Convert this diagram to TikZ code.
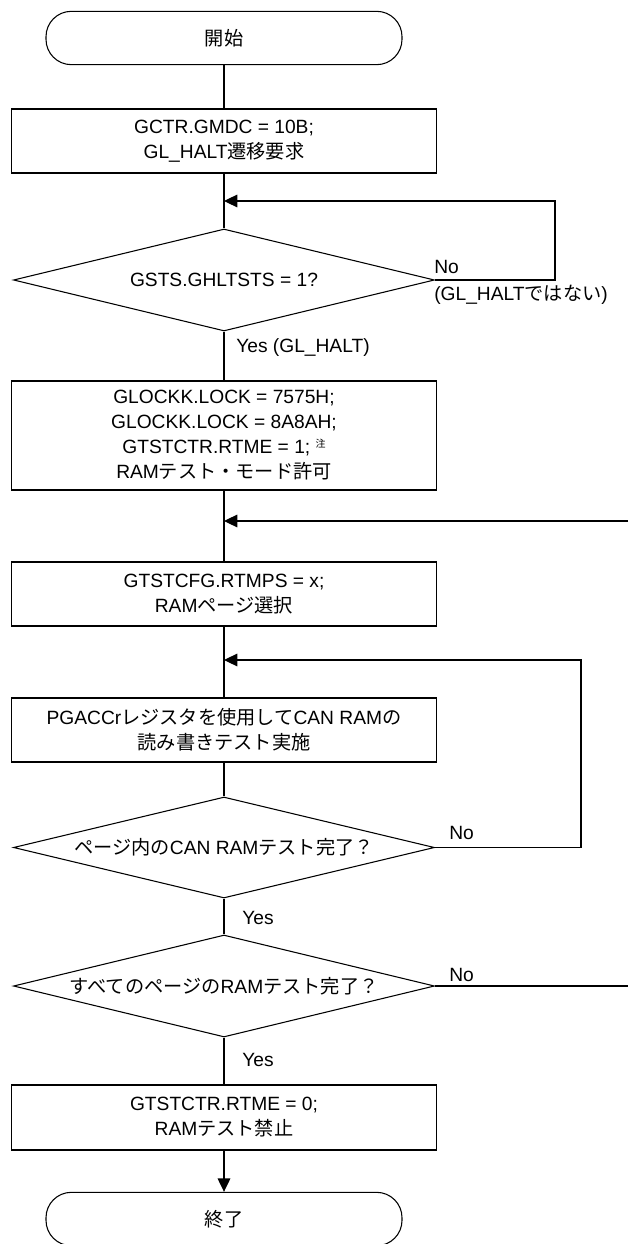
\documentclass[tikz,border=0pt]{standalone}
\usepackage{fontspec}
\setmainfont{Liberation Sans}
\newfontfamily\jp{Noto Sans CJK JP}
\usetikzlibrary{shapes.geometric,arrows.meta}
\begin{document}
\begin{tikzpicture}[x=0.75pt,y=-0.75pt,
  every node/.style={font=\fontsize{14.4}{18.75}\selectfont},
  line/.style={line width=0.8pt},
  term/.style={draw,line width=0.8pt,rounded corners=19pt,minimum width=267pt,minimum height=40pt,inner sep=0pt},
  proc/.style={draw,line width=0.8pt,minimum width=318.75pt,align=center,inner sep=0pt},
  dec/.style={draw,line width=0.8pt,diamond,shape aspect=4.13,minimum width=315.75pt,minimum height=76.5pt,inner sep=0pt,align=center},
  lbl/.style={anchor=west,inner sep=0pt},
  arr/.style={line width=0.8pt,-{Triangle[length=10pt,width=9.5pt]}}
]
\useasboundingbox (0,0) rectangle (628,1244);

% nodes
\node[term] (start) at (224,38) {{\jp 開始}};
\node[proc,minimum height=48pt] (b1) at (224,141) {GCTR.GMDC = 10B;\\GL\_HALT{\jp 遷移要求}};
\node[dec] (d1) at (224,280) {GSTS.GHLTSTS = 1?};
\node[proc,minimum height=81.75pt] (b2) at (224,435.5) {GLOCKK.LOCK = 7575H;\\GLOCKK.LOCK = 8A8AH;\\GTSTCTR.RTME = 1; \raisebox{5pt}{\jp\fontsize{7.5}{8}\selectfont 注}\\RAM{\jp テスト・モード許可}};
\node[proc,minimum height=48pt] (b3) at (224,594) {GTSTCFG.RTMPS = x;\\RAM{\jp ページ選択}};
\node[proc,minimum height=48pt] (b4) at (224,730) {PGACCr{\jp レジスタを使用して}CAN RAM{\jp の}\\{\jp 読み書きテスト実施}};
\node[dec,minimum height=75.75pt] (d2) at (224,847.5) {{\jp ページ内の}CAN RAM{\jp テスト完了？}};
\node[dec] (d3) at (224,986) {{\jp すべてのページの}RAM{\jp テスト完了？}};
\node[proc,minimum height=48.75pt] (b5) at (224,1117.5) {GTSTCTR.RTME = 0;\\RAM{\jp テスト禁止}};
\node[term] (end) at (224,1219) {{\jp 終了}};

% labels
\node[lbl] (l1no) at (434,267) {No};
\node[lbl] (l1no2) at (434,295) {(GL\_HALT{\jp ではない})};
\node[lbl] (l1yes) at (236,348) {Yes (GL\_HALT)};
\node[lbl] (l2no) at (449,833) {No};
\node[lbl] (l2yes) at (242,918) {Yes};
\node[lbl] (l3no) at (449,975) {No};
\node[lbl] (l3yes) at (242,1060) {Yes};

% junction coordinates
\coordinate (j1) at (224,201);
\coordinate (c1) at (555,201);
\coordinate (j2) at (224,521);
\coordinate (c2) at (628,521);
\coordinate (j3) at (224,660);
\coordinate (c3) at (581,660);
\coordinate (c4) at (628,986);

% connectors
\draw[line] (start.south) -- (b1.north);
\draw[line] (b1.south) -- (d1.north);
\draw[arr] (d1.east) -| (c1) -- (j1);
\draw[line] (d1.south) -- (b2.north);
\draw[line] (b2.south) -- (b3.north);
\draw[arr] (c2) -- (j2);
\draw[line] (b3.south) -- (b4.north);
\draw[arr] (d2.east) -| (c3) -- (j3);
\draw[line] (b4.south) -- (d2.north);
\draw[line] (d2.south) -- (d3.north);
\draw[line] (d3.east) -- (c4);
\draw[line] (d3.south) -- (b5.north);
\draw[arr] (b5.south) -- (end.north);
\end{tikzpicture}
\end{document}
